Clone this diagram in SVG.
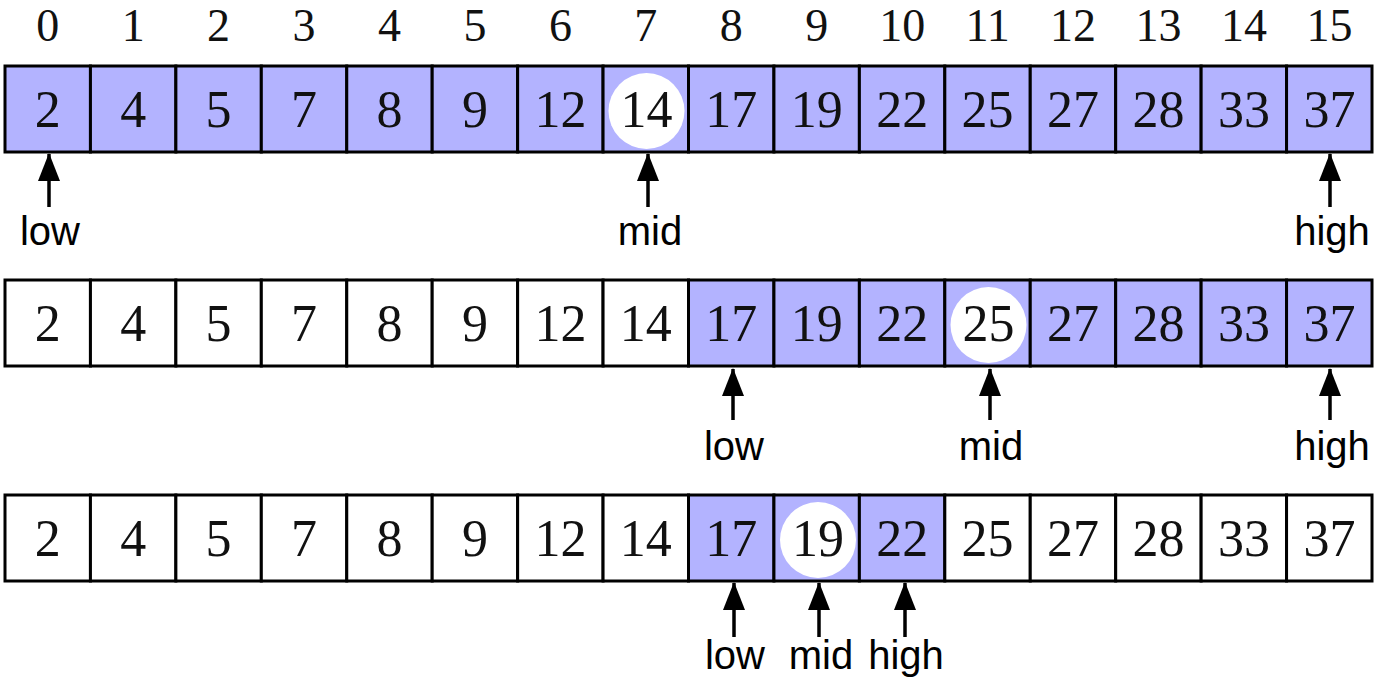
<svg xmlns="http://www.w3.org/2000/svg" width="1376" height="686" viewBox="0 0 1376 686">
<style>
.c{stroke:#000;stroke-width:3}
.on{fill:#b3b3ff}
.off{fill:#fff}
.n{font-family:"Liberation Serif",serif;font-size:52px;text-anchor:middle;fill:#111}
.i{font-family:"Liberation Serif",serif;font-size:46px;text-anchor:middle;fill:#111}
.l{font-family:"Liberation Sans",sans-serif;font-size:40px;text-anchor:middle;fill:#000}
.a{stroke:#000;stroke-width:3.5;fill:none;marker-end:url(#ah)}
.m{fill:#fff}
</style>
<defs>
<marker id="ah" markerUnits="userSpaceOnUse" viewBox="0 0 28 22" markerWidth="28" markerHeight="22" refX="27" refY="11" orient="auto">
<path d="M0,0 L28,11 L0,22 z" fill="#000"/>
</marker>
</defs>
<rect width="1376" height="686" fill="#fff"/>
<g id="indices">
<text class="i" x="47.7" y="41">0</text>
<text class="i" x="133.2" y="41">1</text>
<text class="i" x="218.6" y="41">2</text>
<text class="i" x="304.1" y="41">3</text>
<text class="i" x="389.5" y="41">4</text>
<text class="i" x="474.9" y="41">5</text>
<text class="i" x="560.4" y="41">6</text>
<text class="i" x="645.8" y="41">7</text>
<text class="i" x="731.3" y="41">8</text>
<text class="i" x="816.7" y="41">9</text>
<text class="i" x="902.2" y="41">10</text>
<text class="i" x="987.6" y="41">11</text>
<text class="i" x="1073.1" y="41">12</text>
<text class="i" x="1158.5" y="41">13</text>
<text class="i" x="1244" y="41">14</text>
<text class="i" x="1329.4" y="41">15</text>
</g>
<g id="row1">
<g id="r1c0"><rect class="c on" x="5" y="66" width="85.44" height="86"/><text class="n" x="47.7" y="127">2</text></g>
<g id="r1c1"><rect class="c on" x="90.44" y="66" width="85.44" height="86"/><text class="n" x="133.2" y="127">4</text></g>
<g id="r1c2"><rect class="c on" x="175.88" y="66" width="85.44" height="86"/><text class="n" x="218.6" y="127">5</text></g>
<g id="r1c3"><rect class="c on" x="261.31" y="66" width="85.44" height="86"/><text class="n" x="304.1" y="127">7</text></g>
<g id="r1c4"><rect class="c on" x="346.75" y="66" width="85.44" height="86"/><text class="n" x="389.5" y="127">8</text></g>
<g id="r1c5"><rect class="c on" x="432.19" y="66" width="85.44" height="86"/><text class="n" x="474.9" y="127">9</text></g>
<g id="r1c6"><rect class="c on" x="517.63" y="66" width="85.44" height="86"/><text class="n" x="560.4" y="127">12</text></g>
<g id="r1c7"><rect class="c on" x="603.06" y="66" width="85.44" height="86"/><circle class="m" cx="646.5" cy="111" r="38"/><text class="n" x="646.5" y="127">14</text></g>
<g id="r1c8"><rect class="c on" x="688.5" y="66" width="85.44" height="86"/><text class="n" x="731.3" y="127">17</text></g>
<g id="r1c9"><rect class="c on" x="773.94" y="66" width="85.44" height="86"/><text class="n" x="816.7" y="127">19</text></g>
<g id="r1c10"><rect class="c on" x="859.38" y="66" width="85.44" height="86"/><text class="n" x="902.2" y="127">22</text></g>
<g id="r1c11"><rect class="c on" x="944.81" y="66" width="85.44" height="86"/><text class="n" x="987.6" y="127">25</text></g>
<g id="r1c12"><rect class="c on" x="1030.25" y="66" width="85.44" height="86"/><text class="n" x="1073.1" y="127">27</text></g>
<g id="r1c13"><rect class="c on" x="1115.69" y="66" width="85.44" height="86"/><text class="n" x="1158.5" y="127">28</text></g>
<g id="r1c14"><rect class="c on" x="1201.13" y="66" width="85.44" height="86"/><text class="n" x="1244" y="127">33</text></g>
<g id="r1c15"><rect class="c on" x="1286.56" y="66" width="85.44" height="86"/><text class="n" x="1329.4" y="127">37</text></g>
</g>
<g id="row2">
<g id="r2c0"><rect class="c off" x="5" y="280" width="85.44" height="86"/><text class="n" x="47.7" y="341">2</text></g>
<g id="r2c1"><rect class="c off" x="90.44" y="280" width="85.44" height="86"/><text class="n" x="133.2" y="341">4</text></g>
<g id="r2c2"><rect class="c off" x="175.88" y="280" width="85.44" height="86"/><text class="n" x="218.6" y="341">5</text></g>
<g id="r2c3"><rect class="c off" x="261.31" y="280" width="85.44" height="86"/><text class="n" x="304.1" y="341">7</text></g>
<g id="r2c4"><rect class="c off" x="346.75" y="280" width="85.44" height="86"/><text class="n" x="389.5" y="341">8</text></g>
<g id="r2c5"><rect class="c off" x="432.19" y="280" width="85.44" height="86"/><text class="n" x="474.9" y="341">9</text></g>
<g id="r2c6"><rect class="c off" x="517.63" y="280" width="85.44" height="86"/><text class="n" x="560.4" y="341">12</text></g>
<g id="r2c7"><rect class="c off" x="603.06" y="280" width="85.44" height="86"/><text class="n" x="645.8" y="341">14</text></g>
<g id="r2c8"><rect class="c on" x="688.5" y="280" width="85.44" height="86"/><text class="n" x="731.3" y="341">17</text></g>
<g id="r2c9"><rect class="c on" x="773.94" y="280" width="85.44" height="86"/><text class="n" x="816.7" y="341">19</text></g>
<g id="r2c10"><rect class="c on" x="859.38" y="280" width="85.44" height="86"/><text class="n" x="902.2" y="341">22</text></g>
<g id="r2c11"><rect class="c on" x="944.81" y="280" width="85.44" height="86"/><circle class="m" cx="988.5" cy="325" r="38"/><text class="n" x="988.5" y="341">25</text></g>
<g id="r2c12"><rect class="c on" x="1030.25" y="280" width="85.44" height="86"/><text class="n" x="1073.1" y="341">27</text></g>
<g id="r2c13"><rect class="c on" x="1115.69" y="280" width="85.44" height="86"/><text class="n" x="1158.5" y="341">28</text></g>
<g id="r2c14"><rect class="c on" x="1201.13" y="280" width="85.44" height="86"/><text class="n" x="1244" y="341">33</text></g>
<g id="r2c15"><rect class="c on" x="1286.56" y="280" width="85.44" height="86"/><text class="n" x="1329.4" y="341">37</text></g>
</g>
<g id="row3">
<g id="r3c0"><rect class="c off" x="5" y="495" width="85.44" height="86"/><text class="n" x="47.7" y="556">2</text></g>
<g id="r3c1"><rect class="c off" x="90.44" y="495" width="85.44" height="86"/><text class="n" x="133.2" y="556">4</text></g>
<g id="r3c2"><rect class="c off" x="175.88" y="495" width="85.44" height="86"/><text class="n" x="218.6" y="556">5</text></g>
<g id="r3c3"><rect class="c off" x="261.31" y="495" width="85.44" height="86"/><text class="n" x="304.1" y="556">7</text></g>
<g id="r3c4"><rect class="c off" x="346.75" y="495" width="85.44" height="86"/><text class="n" x="389.5" y="556">8</text></g>
<g id="r3c5"><rect class="c off" x="432.19" y="495" width="85.44" height="86"/><text class="n" x="474.9" y="556">9</text></g>
<g id="r3c6"><rect class="c off" x="517.63" y="495" width="85.44" height="86"/><text class="n" x="560.4" y="556">12</text></g>
<g id="r3c7"><rect class="c off" x="603.06" y="495" width="85.44" height="86"/><text class="n" x="645.8" y="556">14</text></g>
<g id="r3c8"><rect class="c on" x="688.5" y="495" width="85.44" height="86"/><text class="n" x="731.3" y="556">17</text></g>
<g id="r3c9"><rect class="c on" x="773.94" y="495" width="85.44" height="86"/><circle class="m" cx="818" cy="540" r="38"/><text class="n" x="818" y="556">19</text></g>
<g id="r3c10"><rect class="c on" x="859.38" y="495" width="85.44" height="86"/><text class="n" x="902.2" y="556">22</text></g>
<g id="r3c11"><rect class="c off" x="944.81" y="495" width="85.44" height="86"/><text class="n" x="987.6" y="556">25</text></g>
<g id="r3c12"><rect class="c off" x="1030.25" y="495" width="85.44" height="86"/><text class="n" x="1073.1" y="556">27</text></g>
<g id="r3c13"><rect class="c off" x="1115.69" y="495" width="85.44" height="86"/><text class="n" x="1158.5" y="556">28</text></g>
<g id="r3c14"><rect class="c off" x="1201.13" y="495" width="85.44" height="86"/><text class="n" x="1244" y="556">33</text></g>
<g id="r3c15"><rect class="c off" x="1286.56" y="495" width="85.44" height="86"/><text class="n" x="1329.4" y="556">37</text></g>
</g>
<g id="connectors">
<line class="a" x1="49" y1="207" x2="49" y2="154"/>
<line class="a" x1="648" y1="207" x2="648" y2="154"/>
<line class="a" x1="1330" y1="207" x2="1330" y2="154"/>
<line class="a" x1="733" y1="420" x2="733" y2="369"/>
<line class="a" x1="990" y1="420" x2="990" y2="369"/>
<line class="a" x1="1330" y1="420" x2="1330" y2="369"/>
<line class="a" x1="734" y1="637" x2="734" y2="583"/>
<line class="a" x1="819" y1="637" x2="819" y2="583"/>
<line class="a" x1="905" y1="637" x2="905" y2="583"/>
</g>
<g id="labels">
<text class="l" x="50" y="245">low</text>
<text class="l" x="650" y="245">mid</text>
<text class="l" x="1332" y="245">high</text>
<text class="l" x="734" y="460">low</text>
<text class="l" x="991" y="460">mid</text>
<text class="l" x="1332" y="460">high</text>
<text class="l" x="735" y="669">low</text>
<text class="l" x="821" y="669">mid</text>
<text class="l" x="906" y="669">high</text>
</g>
</svg>
